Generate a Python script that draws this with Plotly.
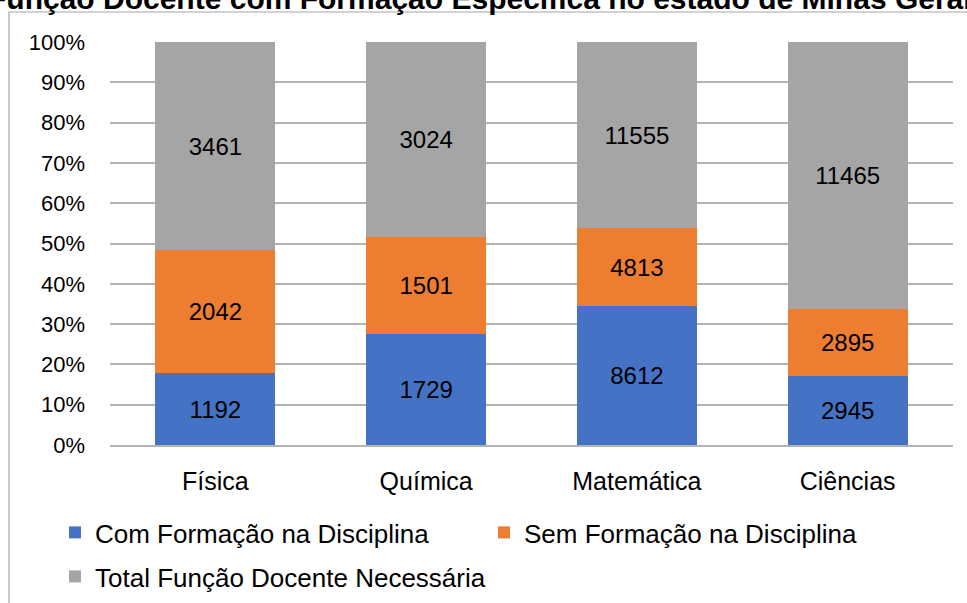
import plotly.graph_objects as go

categories = ["Física", "Química", "Matemática", "Ciências"]
com_formacao = [1192, 1729, 8612, 2945]
sem_formacao = [2042, 1501, 4813, 2895]
total_necessaria = [3461, 3024, 11555, 11465]
series_names = ["Com Formação na Disciplina", "Sem Formação na Disciplina", "Total Função Docente Necessária"]
series_colors = ["#4472C4", "#ED7D31", "#A5A5A5"]
y_ticks = [0, 10, 20, 30, 40, 50, 60, 70, 80, 90, 100]
y_tick_labels = [f"{v}%" for v in y_ticks]
title_text = "Função Docente com Formação Específica no estado de Minas Gerais"

FONT = "Liberation Sans, Arial, sans-serif"
GRID = "#b3b3b3"

W, H = 967, 603
L, R, T, B = 110, 14, 42, 158
pw, ph = W - L - R, H - T - B

def px(x):
    return (x - L) / pw

def py(y):
    return (H - B - y) / ph

def cy(y):
    return 1 - y / H

def cx(x):
    return x / W

legend_ids = ["legend", "legend2", "legend3"]
legend_pos = [(55, 509), (484, 509), (55, 553)]

fig = go.Figure()
for name, vals, col, lid in zip(series_names, [com_formacao, sem_formacao, total_necessaria], series_colors, legend_ids):
    fig.add_trace(go.Bar(
        x=categories, y=vals, name=name,
        marker=dict(color=col, line=dict(width=0)),
        text=[str(v) for v in vals], textposition="inside", insidetextanchor="middle",
        textangle=0, textfont=dict(family=FONT, size=24, color="#000000"),
        legend=lid,
    ))

legends = {}
for lid, (lx, ly) in zip(legend_ids, legend_pos):
    legends[lid] = dict(orientation="h", xref="container", yref="container",
                        x=cx(lx), xanchor="left", y=cy(ly), yanchor="top",
                        font=dict(size=26), bgcolor="rgba(0,0,0,0)", itemwidth=30)

fig.update_layout(
    width=W, height=H,
    margin=dict(l=L, r=R, t=T, b=B, autoexpand=False),
    paper_bgcolor="white", plot_bgcolor="white",
    barmode="stack", barnorm="percent", bargap=0.43,
    font=dict(family=FONT, size=22, color="#000000"),
    xaxis=dict(showgrid=False, showline=True, linecolor=GRID, linewidth=1.5, automargin=False,
               tickfont=dict(size=25), ticks="", ticklabelstandoff=13, fixedrange=True),
    yaxis=dict(range=[0, 100], tickmode="array", tickvals=y_ticks, ticktext=y_tick_labels,
               showgrid=True, automargin=False,
               gridcolor=GRID, gridwidth=1.5, zeroline=False, showline=False,
               tickfont=dict(size=22), ticklabelstandoff=24, fixedrange=True),
    showlegend=True,
    **legends,
)

# chart area border (cut off at right/bottom in the reference)
fig.add_shape(type="rect", xref="paper", yref="paper",
              x0=px(9), x1=px(1000), y0=py(640), y1=py(12),
              line=dict(color="#a6a6a6", width=1.2), fillcolor="rgba(0,0,0,0)", layer="below")

# title, mostly cut off above the frame
fig.add_annotation(text="<b>" + title_text + "</b>", xref="paper", yref="paper",
                   x=px(-13), xanchor="left", y=py(16), yanchor="bottom",
                   showarrow=False, font=dict(size=30, family=FONT, color="#000000"),
                   borderpad=0)

fig.write_html("out.html", config={"displayModeBar": False},
               post_script="document.body.style.margin='0';document.body.style.overflow='hidden';")
